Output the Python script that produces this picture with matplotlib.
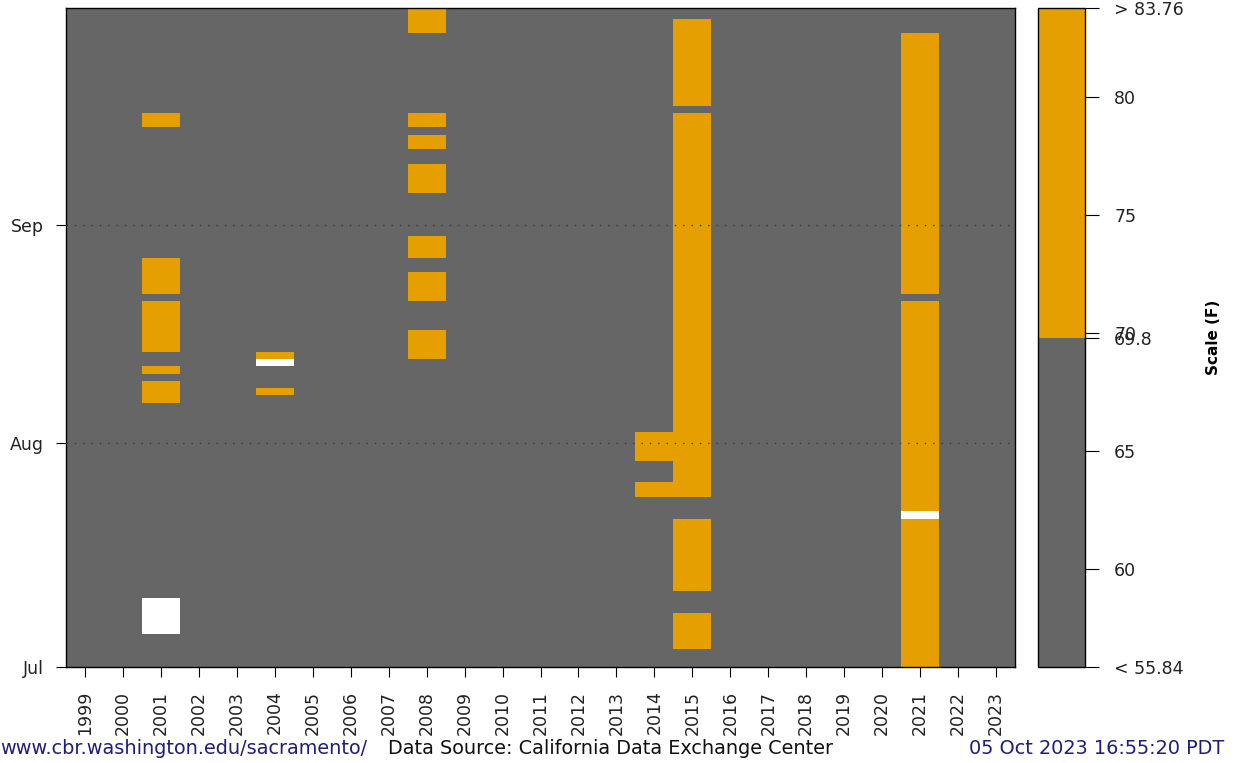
import numpy as np
import matplotlib
matplotlib.use('Agg')
import matplotlib.pyplot as plt
from matplotlib.colors import ListedColormap, BoundaryNorm
import matplotlib.cm as cm

years = list(range(1999, 2024))
n_days = 92  # Jul 1 .. Sep 30, day 0 = Jul 1
threshold = 69.8
scale_min = 55.84
scale_max = 83.76

# runs of days (first, last) above the threshold
hot_days = {
    2001: [(37, 39), (41, 41), (44, 50), (52, 56), (75, 76)],
    2004: [(38, 38), (43, 43)],
    2008: [(43, 46), (51, 54), (57, 59), (66, 69), (72, 73), (75, 76), (88, 91)],
    2014: [(24, 25), (29, 32)],
    2015: [(3, 7), (11, 20), (24, 76), (78, 89)],
    2021: [(0, 20), (22, 50), (52, 87)],
}
# runs of days with no data
missing_days = {
    2001: [(5, 9)],
    2004: [(42, 42)],
    2021: [(21, 21)],
}

month_ticks = [0, 31, 61]
month_labels = ['Jul', 'Aug', 'Sep']
cbar_ticks = [scale_min, 60, 65, threshold, 70, 75, 80, scale_max]
cbar_labels = ['< 55.84', '60', '65', '69.8', '70', '75', '80', '> 83.76']

gray = '#666666'
orange = '#E69F00'

grid = np.zeros((n_days, len(years)))
for yr, runs in hot_days.items():
    for a, b in runs:
        grid[a:b + 1, years.index(yr)] = 1
for yr, runs in missing_days.items():
    for a, b in runs:
        grid[a:b + 1, years.index(yr)] = np.nan
grid = np.ma.masked_invalid(grid)

cmap = ListedColormap([gray, orange])
cmap.set_bad('white')

fig = plt.figure(figsize=(12.34, 7.63), dpi=100)
ax = fig.add_axes([66 / 1234, 96 / 763, 949 / 1234, 659 / 763])

x_edges = np.arange(len(years) + 1) + years[0] - 0.5
y_edges = np.arange(n_days + 1) - 0.5
ax.pcolormesh(x_edges, y_edges, grid, cmap=cmap, vmin=0, vmax=1, antialiased=True)

ax.set_xlim(years[0] - 0.5, years[-1] + 0.5)
ax.set_ylim(0, n_days - 1)
ax.set_xticks(years)
ax.set_xticklabels([str(y) for y in years], rotation=90, fontsize=12.5, color='#222222')
ax.set_yticks(month_ticks)
ax.set_yticklabels(month_labels, fontsize=12.5, color='#222222')
ax.tick_params(axis='x', length=7, pad=10)
ax.tick_params(axis='y', length=7, pad=9)
for t in month_ticks[1:]:
    ax.axhline(t, color='#3a3a3a', linestyle=(0, (1, 5)), linewidth=1, zorder=3)
for s in ax.spines.values():
    s.set_linewidth(1)

# colour scale
cax = fig.add_axes([1038 / 1234, 96 / 763, 47 / 1234, 659 / 763])
norm = BoundaryNorm([scale_min, threshold, scale_max], 2)
sm = cm.ScalarMappable(norm=norm, cmap=ListedColormap([gray, orange]))
cb = fig.colorbar(sm, cax=cax, ticks=cbar_ticks)
cb.set_ticklabels(cbar_labels)
cb.outline.set_linewidth(1)
cax.tick_params(length=10, pad=11, labelsize=12.5, labelcolor='#222222')
fig.text(1213 / 1234, 1 - 337 / 763, 'Scale (F)', rotation=90, fontsize=11,
         fontweight='bold', ha='center', va='center')

# footer
fig.text(0.0, 1 - 748 / 763, 'www.cbr.washington.edu/sacramento/', color='#1f1f7a',
         fontsize=13.9, ha='left', va='center')
fig.text(388 / 1234, 1 - 748 / 763, 'Data Source: California Data Exchange Center', color='#111111',
         fontsize=13.9, ha='left', va='center')
fig.text(1224 / 1234, 1 - 748 / 763, '05 Oct 2023 16:55:20 PDT', color='#1f1f7a',
         fontsize=13.9, ha='right', va='center')

fig.savefig('out.png', dpi=100)
